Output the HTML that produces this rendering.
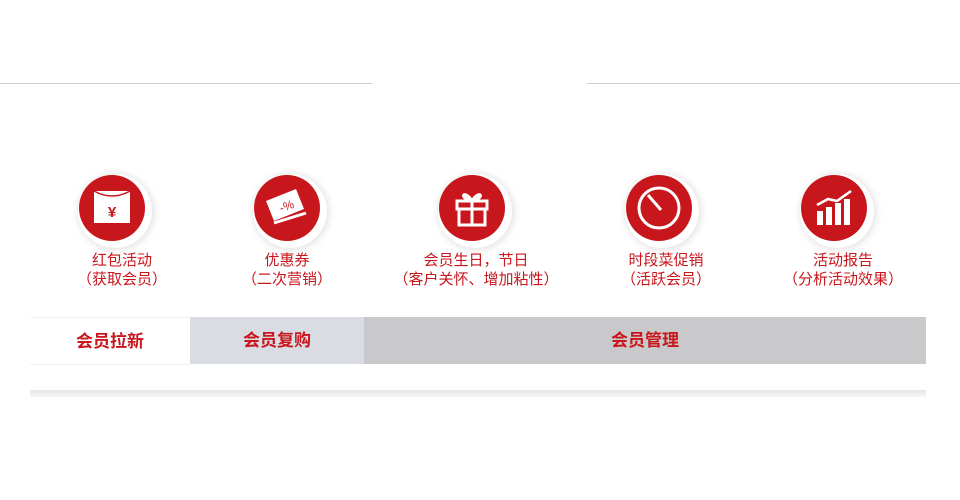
<!DOCTYPE html>
<html><head><meta charset="utf-8"><style>
body{margin:0;width:960px;height:500px;background:#fff;position:relative;overflow:hidden;font-family:"Liberation Sans","Noto Sans CJK SC",sans-serif}
.ln{position:absolute;top:83px;height:1px;background:#cfcfcf}
.c{position:absolute;width:66px;height:66px;border-radius:50%;background:#c8161d;box-shadow:3px 3px 0 4px #fff,4px 4px 8px 5px rgba(0,0,0,.12)}
.t{position:absolute;width:200px;text-align:center;color:#c8161d;font-size:15px;line-height:19px}
.tab{position:absolute;top:317px;height:47px;line-height:47px;text-align:center;color:#c8161d;font-weight:bold;font-size:17px}
</style></head><body>
<div class="ln" style="left:0;width:372px"></div>
<div class="ln" style="left:587px;width:373px"></div>

<div class="c" style="left:79px;top:175px"><svg width="66" height="66"><rect x="15" y="16" width="36" height="32" fill="#fff"/><path d="M15 16 Q33 26 51 16" stroke="#c8161d" stroke-width="1.5" fill="none"/><text x="33" y="42" font-size="15" fill="#c8161d" text-anchor="middle" font-weight="bold">¥</text></svg></div>
<div class="c" style="left:254px;top:175px"><svg width="66" height="66"><path d="M12 26 L42 14 L50 34 L20 46 Z" fill="#fff"/><path d="M20 48 L52 38" stroke="#fff" stroke-width="3"/><text x="33" y="35" font-size="12" fill="#c8161d" text-anchor="middle" transform="rotate(-20 33 32)">-%</text></svg></div>
<div class="c" style="left:439px;top:175px"><svg width="66" height="66"><g stroke="#fff" stroke-width="3" fill="none"><rect x="18" y="26" width="30" height="8"/><rect x="20" y="34" width="26" height="16"/><path d="M33 26 V50 M33 26 C26 14 18 22 33 26 C40 14 48 22 33 26"/></g></svg></div>
<div class="c" style="left:626px;top:175px"><svg width="66" height="66"><circle cx="33" cy="33" r="20" stroke="#fff" stroke-width="3" fill="none"/><path d="M22 20 L35 35" stroke="#fff" stroke-width="3"/></svg></div>
<div class="c" style="left:801px;top:175px"><svg width="66" height="66"><g fill="#fff"><rect x="16" y="36" width="6" height="14"/><rect x="25" y="32" width="6" height="18"/><rect x="34" y="28" width="6" height="22"/><rect x="43" y="24" width="6" height="26"/></g><path d="M16 30 L27 24 L36 26 L50 16" stroke="#fff" stroke-width="2.5" fill="none"/></svg></div>

<div class="t" style="left:22px;top:251px">红包活动<br>（获取会员）</div>
<div class="t" style="left:187px;top:251px">优惠券<br>（二次营销）</div>
<div class="t" style="left:376px;top:251px">会员生日，节日<br>（客户关怀、增加粘性）</div>
<div class="t" style="left:566px;top:251px">时段菜促销<br>（活跃会员）</div>
<div class="t" style="left:743px;top:251px">活动报告<br>（分析活动效果）</div>

<div class="tab" style="left:30px;width:160px;background:#fff;border-top:1px solid #f0f0f0;border-bottom:1px solid #f0f0f0;height:46px">会员拉新</div>
<div class="tab" style="left:190px;width:174px;background:#d9dde3">会员复购</div>
<div class="tab" style="left:364px;width:562px;background:#c9c9cb">会员管理</div>

<div style="position:absolute;left:30px;top:390px;width:896px;height:7px;background:linear-gradient(#e6e6e6,#f6f6f6)"></div>
</body></html>
